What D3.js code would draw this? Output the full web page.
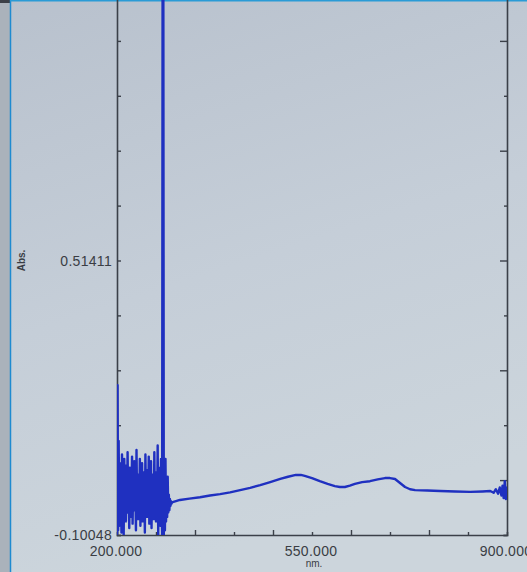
<!DOCTYPE html>
<html>
<head>
<meta charset="utf-8">
<script src="https://cdn.jsdelivr.net/npm/d3@7"></script>
<style>
  html, body { margin: 0; padding: 0; background: #b9c3cd; }
  svg { display: block; }
</style>
</head>
<body>
<div id="chart"></div>
<script>
// Data
var chart_width  = 527;
var chart_height = 572;

// noisy start of the scan, 200..299 nm every 1 nm (Abs)
var noise_start = 200;
var noise_abs = [
  -0.100, 0.235, -0.090, 0.110, -0.080, 0.060, -0.060, 0.020, -0.095, 0.080,
  -0.040, 0.030, -0.100, 0.070, -0.030, 0.010, -0.070, 0.055, -0.050, 0.085,
  -0.020, 0.005, -0.085, 0.050, -0.060, 0.030, -0.010, 0.075, -0.075, 0.020,
  -0.045, 0.065, -0.030, 0.000, -0.090, 0.090, -0.020, 0.035, -0.065, 0.015,
  -0.040, 0.070, -0.080, 0.025, -0.010, 0.060, -0.070, 0.040, -0.055, 0.020,
  -0.095, 0.080, -0.030, 0.045, -0.060, 0.010, -0.040, 0.075, -0.075, 0.030,
  -0.020, 0.065, -0.085, 0.035, -0.050, 0.000, -0.065, 0.085, -0.035, 0.040,
  -0.070, 0.025, -0.045, 0.100, -0.100, 0.050, -0.060, 0.030, -0.080, 0.070,
  -0.030, -0.100, 1.400, 1.400, -0.100, 0.060, -0.090, 0.070, -0.070, 0.030,
  -0.060, 0.030, -0.050, -0.010, -0.045, -0.020, -0.035, -0.025, -0.030, -0.027
];

// smooth part of the scan (nm, Abs)
var scan_nm  = [ 300, 313, 330, 349, 367, 385, 403, 421, 439, 457, 475, 493, 507, 521, 530, 537, 550, 564, 578, 591, 600, 609, 618, 627, 640, 654, 668, 681, 690, 699, 708, 717, 726, 735, 757, 780, 807, 834, 856, 870, 876, 880, 884, 887, 890, 892, 894, 896, 898, 900 ];
var scan_abs = [ -0.027, -0.022, -0.019, -0.016, -0.012, -0.009, -0.005, 0.000, 0.005, 0.011, 0.018, 0.025, 0.030, 0.034, 0.034, 0.032, 0.027, 0.020, 0.014, 0.009, 0.007, 0.007, 0.010, 0.014, 0.018, 0.020, 0.024, 0.027, 0.027, 0.025, 0.016, 0.007, 0.002, 0.000, -0.001, -0.002, -0.003, -0.004, -0.003, -0.002, -0.006, 0.002, -0.008, 0.006, -0.012, 0.010, -0.018, 0.020, -0.020, 0.008 ];

// axes
var x_domain = [ 200, 900 ];
var y_domain = [ -0.10048, 1.12870 ];
var x_tick_nm    = [ 270, 340, 410, 480, 550, 620, 690, 760, 830 ];
var x_labels     = [ 200, 550, 900 ];
var y_labels     = [ -0.10048, 0.51411 ];
var y_tick_count = 10;

// scales
var x = d3.scaleLinear().domain(x_domain).range([117, 507]);
var y = d3.scaleLinear().domain(y_domain).range([535, -14]);
var y_step = (0.51411 - -0.10048) / 5;
var y_ticks = d3.range(0, y_tick_count).map(function(i){ return -0.10048 + i * y_step; });

var points = noise_abs.map(function(v, i){ return [ noise_start + i, v ]; })
    .concat(scan_nm.map(function(v, i){ return [ v, scan_abs[i] ]; }));

// create chart
var svg = d3.select('#chart')
    .append('svg')
    .attr('width', chart_width)
    .attr('height', chart_height);

// photo background
var defs = svg.append('defs');
var grad = defs.append('linearGradient')
    .attr('id', 'bg')
    .attr('x1', 0).attr('y1', 0).attr('x2', 0.3).attr('y2', 1);
grad.append('stop').attr('offset', '0%').attr('stop-color', '#b8c1cd');
grad.append('stop').attr('offset', '55%').attr('stop-color', '#c5ced8');
grad.append('stop').attr('offset', '100%').attr('stop-color', '#ccd5dc');

svg.append('rect')
    .attr('width', chart_width).attr('height', chart_height)
    .attr('fill', 'url(#bg)');
svg.append('rect')
    .attr('width', 10).attr('height', chart_height)
    .attr('fill', '#aab2bb');
svg.append('rect')
    .attr('width', 10).attr('height', 3)
    .attr('fill', '#3c4048');
svg.append('line')
    .attr('x1', 10.5).attr('x2', 10.5).attr('y1', 0).attr('y2', chart_height)
    .attr('stroke', '#1e8ad0').attr('stroke-width', 1.5);
svg.append('line')
    .attr('x1', 10).attr('x2', chart_width).attr('y1', 0.75).attr('y2', 0.75)
    .attr('stroke', '#2a9bd6').attr('stroke-width', 1.5);

defs.append('clipPath').attr('id', 'plot')
    .append('rect')
    .attr('x', x(200)).attr('y', y(y_domain[1]))
    .attr('width', x(900) - x(200)).attr('height', y(y_domain[0]) - y(y_domain[1]));

var axis_color = '#3b4049';

// left axis, ticks inside
svg.append('g')
    .attr('transform', 'translate(' + x(200) + ',0)')
    .call(d3.axisLeft(y).tickValues(y_ticks).tickSize(-4).tickFormat(''))
    .call(function(g){
        g.select('.domain').attr('stroke', axis_color).attr('stroke-width', 1.6);
        g.selectAll('line').attr('stroke', axis_color).attr('stroke-width', 1.4);
    });

// right axis, alternating long/short ticks inside
svg.append('g')
    .attr('transform', 'translate(' + x(900) + ',0)')
    .call(d3.axisRight(y).tickValues(y_ticks).tickSize(-4).tickFormat(''))
    .call(function(g){
        g.select('.domain').attr('stroke', axis_color).attr('stroke-width', 1.6);
        g.selectAll('line')
            .attr('stroke', axis_color).attr('stroke-width', 1.4)
            .attr('x2', function(d, i){ return i % 2 === 1 ? -7 : -3; });
    });

// bottom axis, ticks inside
svg.append('g')
    .attr('transform', 'translate(0,' + y(y_domain[0]) + ')')
    .call(d3.axisBottom(x).tickValues(x_tick_nm).tickSize(-3).tickFormat(''))
    .call(function(g){
        g.select('.domain').attr('stroke', axis_color).attr('stroke-width', 1.6);
        g.selectAll('line')
            .attr('stroke', axis_color).attr('stroke-width', 1.4)
            .attr('y2', function(d, i){ return i % 2 === 1 ? -5 : -3; });
    });

// spectrum
var line = d3.line()
    .x(function(d){ return x(d[0]); })
    .y(function(d){ return y(d[1]); });

svg.append('path')
    .datum(points)
    .attr('clip-path', 'url(#plot)')
    .attr('fill', 'none')
    .attr('stroke', '#1f30c0')
    .attr('stroke-width', 2.4)
    .attr('stroke-linejoin', 'round')
    .attr('d', line);

// labels
var font = '"Liberation Sans", Arial, sans-serif';
var label_color = '#3a3d44';

svg.selectAll('text.ylab')
    .data(y_labels)
    .enter()
    .append('text')
    .attr('class', 'ylab')
    .attr('x', 112)
    .attr('y', function(d){ return y(d) + 5; })
    .attr('text-anchor', 'end')
    .attr('font-family', font).attr('font-size', 14)
    .attr('letter-spacing', 0.3)
    .attr('fill', label_color)
    .text(function(d){ return d.toFixed(5); });

svg.selectAll('text.xlab')
    .data(x_labels)
    .enter()
    .append('text')
    .attr('class', 'xlab')
    .attr('x', function(d){ return x(d) - 1; })
    .attr('y', 556)
    .attr('text-anchor', 'middle')
    .attr('font-family', font).attr('font-size', 14)
    .attr('letter-spacing', 0.3)
    .attr('fill', label_color)
    .text(function(d){ return d.toFixed(3); });

svg.append('text')
    .attr('transform', 'translate(25,' + y(0.51411) + ') rotate(-90)')
    .attr('text-anchor', 'middle')
    .attr('font-family', font).attr('font-size', 10).attr('font-weight', 'bold')
    .attr('fill', label_color)
    .text('Abs.');

svg.append('text')
    .attr('x', x(550) + 2)
    .attr('y', 567)
    .attr('text-anchor', 'middle')
    .attr('font-family', font).attr('font-size', 10)
    .attr('fill', label_color)
    .text('nm.');
</script>
</body>
</html>
